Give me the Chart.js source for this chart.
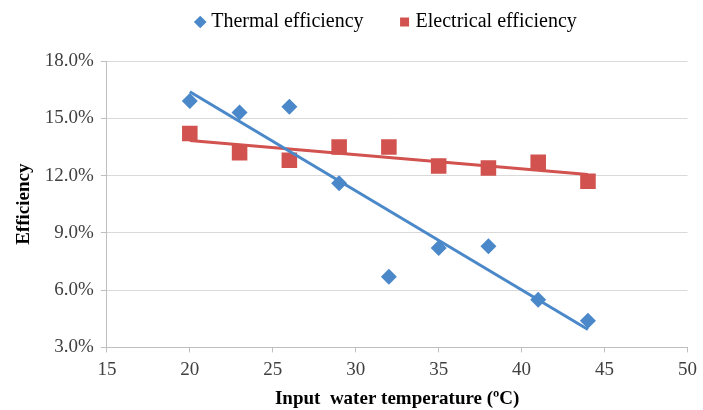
<!DOCTYPE html>
<html>
<head>
<meta charset="utf-8">
<script src="https://cdn.jsdelivr.net/npm/chart.js@4"></script>
<style>
  html, body { margin: 0; padding: 0; background: #fff; }
  #wrap { width: 703px; height: 410px; }
</style>
</head>
<body>
<div id="wrap"><canvas id="effChart" width="703" height="410"></canvas></div>
<script>
// inlet water temperature (°C)
const temps = [20, 23, 26, 29, 32, 35, 38, 41, 44];
// efficiencies in %
const thermalEff = [15.9, 15.3, 15.6, 11.6, 6.7, 8.2, 8.3, 5.5, 4.4];
const electricalEff = [14.2, 13.2, 12.8, 13.5, 13.5, 12.5, 12.4, 12.7, 11.7];
const seriesNames = ['Thermal efficiency', 'Electrical efficiency'];
const xTicks = [15, 20, 25, 30, 35, 40, 45, 50];
const yTicks = [3, 6, 9, 12, 15, 18];

const BLUE = '#4A88C9';
const RED = '#D1524E';
const FONT = "'Liberation Serif', 'Times New Roman', serif";
const LEGEND_PAD = 40;

/** least squares fit, same thing Excel's linear trendline does */
function linearFit(xs, ys) {
    const n = xs.length;
    const mx = xs.reduce((a, b) => a + b, 0) / n;
    const my = ys.reduce((a, b) => a + b, 0) / n;
    let sxy = 0, sxx = 0;
    xs.forEach((x, i) => {
        sxy += (x - mx) * (ys[i] - my);
        sxx += (x - mx) * (x - mx);
    });
    const slope = sxy / sxx;
    const x0 = xs[0], x1 = xs[n - 1];
    return [
        { x: x0, y: my + slope * (x0 - mx) },
        { x: x1, y: my + slope * (x1 - mx) }
    ];
}

const toPoints = ys => temps.map((t, i) => ({ x: t, y: ys[i] }));

const chartConfig = {
    type: 'scatter',
    data: {
        datasets: [{
            label: seriesNames[0],
            data: toPoints(thermalEff),
            pointStyle: 'rectRot',
            pointRadius: 8,
            backgroundColor: BLUE,
            borderColor: BLUE,
            borderWidth: 0,
            order: 2
        }, {
            label: seriesNames[1],
            data: toPoints(electricalEff),
            pointStyle: 'rect',
            pointRadius: 11,
            backgroundColor: RED,
            borderColor: RED,
            borderWidth: 0,
            order: 1
        }, {
            label: 'trend-thermal',
            type: 'line',
            data: linearFit(temps, thermalEff),
            borderColor: BLUE,
            borderWidth: 3,
            pointRadius: 0,
            fill: false,
            order: 0
        }, {
            label: 'trend-electrical',
            type: 'line',
            data: linearFit(temps, electricalEff),
            borderColor: RED,
            borderWidth: 3,
            pointRadius: 0,
            fill: false,
            order: 0
        }]
    },
    options: {
        responsive: false,
        animation: false,
        layout: { padding: { left: 13, right: 5, top: 0, bottom: 0 } },
        scales: {
            x: {
                type: 'linear',
                min: 15,
                max: 50,
                afterBuildTicks: axis => { axis.ticks = xTicks.map(v => ({ value: v })); },
                grid: { drawOnChartArea: false, drawTicks: true, tickLength: 5, color: '#bfbfbf' },
                border: { color: '#bfbfbf' },
                ticks: { color: '#404040', font: { family: FONT, size: 19 }, padding: 6, maxRotation: 0 },
                title: {
                    display: true,
                    text: 'Input  water temperature (ºC)',
                    color: '#000',
                    font: { family: FONT, size: 19, weight: 'bold' },
                    padding: { top: 0, bottom: 0 }
                }
            },
            y: {
                min: 3,
                max: 18,
                afterBuildTicks: axis => { axis.ticks = yTicks.map(v => ({ value: v })); },
                grid: { color: '#d9d9d9', tickColor: '#bfbfbf', drawTicks: true, tickLength: 6 },
                border: { color: '#bfbfbf' },
                ticks: {
                    color: '#404040',
                    font: { family: FONT, size: 19 },
                    padding: 7,
                    callback: v => v.toFixed(1) + '%'
                },
                title: {
                    display: true,
                    text: 'Efficiency',
                    color: '#000',
                    font: { family: FONT, size: 19, weight: 'bold' },
                    padding: { top: 0, bottom: 2 }
                }
            }
        },
        plugins: {
            legend: {
                display: true,
                position: 'top',
                labels: {
                    usePointStyle: true,
                    boxWidth: 2,
                    boxHeight: 9,
                    color: '#000',
                    font: { family: FONT, size: 20 },
                    padding: LEGEND_PAD,
                    filter: item => seriesNames.includes(item.text),
                    sort: (a, b) => a.datasetIndex - b.datasetIndex
                }
            },
            tooltip: { enabled: false }
        }
    },
    plugins: [{
        // legend sits a bit right of centre and leaves a tall gap above the plot
        id: 'legendPlacement',
        beforeInit(chart) {
            const fit = chart.legend.fit;
            chart.legend.fit = function () {
                fit.bind(chart.legend)();
                this.height = 61;
            };
        },
        afterLayout(chart) {
            chart.legend.left += 65;
            chart.legend.top -= LEGEND_PAD - 12;
        }
    }]
};

const ctx = document.getElementById('effChart').getContext('2d');
new Chart(ctx, chartConfig);
</script>
</body>
</html>
